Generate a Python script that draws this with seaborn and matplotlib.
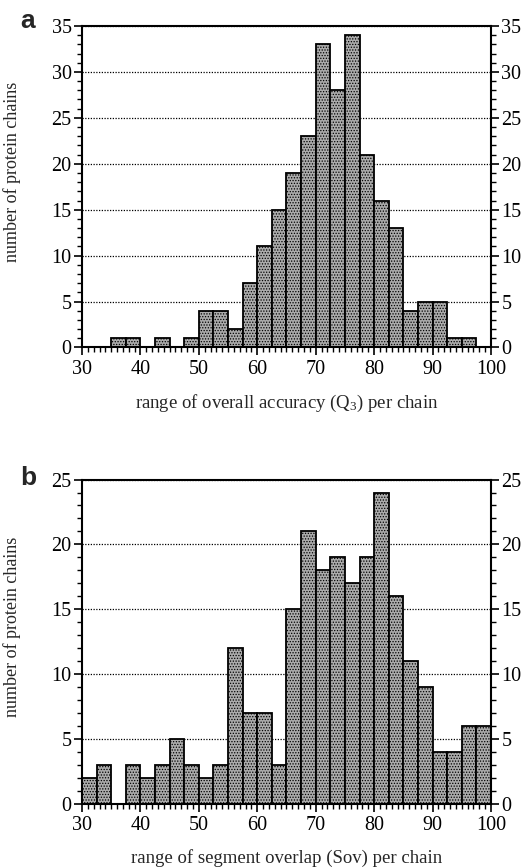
import numpy as np
import pandas as pd
import matplotlib
matplotlib.use('Agg')
import matplotlib.pyplot as plt
from matplotlib.ticker import MultipleLocator
import seaborn as sns

# histogram bins are 2.5 wide, from 30 to 100
bin_edges = np.arange(30, 100.1, 2.5)
bin_centers = bin_edges[:-1] + 1.25

# panel a: overall accuracy (Q3) per chain
q3_counts = [0, 0, 1, 1, 0, 1, 0, 1, 4, 4, 2, 7, 11, 15,
             19, 23, 33, 28, 34, 21, 16, 13, 4, 5, 5, 1, 1, 0]
# panel b: segment overlap (Sov) per chain
sov_counts = [2, 3, 0, 3, 2, 3, 5, 3, 2, 3, 12, 7, 7, 3,
              15, 21, 18, 19, 17, 19, 24, 16, 11, 9, 4, 4, 6, 6]

xlabels = ['range of overall accuracy (Q$_3$) per chain',
           'range of segment overlap (Sov) per chain']
ylabel = 'number of protein chains'
ymaxes = [35, 25]
letters = ['a', 'b']

bar_color = '#ababab'

sns.set_style('ticks')
plt.rcParams['font.family'] = ['Liberation Serif', 'DejaVu Serif']
plt.rcParams['mathtext.fontset'] = 'custom'
plt.rcParams['mathtext.rm'] = 'Liberation Serif'
plt.rcParams['mathtext.it'] = 'Liberation Serif:italic'
plt.rcParams['hatch.color'] = '#3c3c3c'
plt.rcParams['hatch.linewidth'] = 0.6


def draw_panel(ax, counts, ymax, xlabel):
    df = pd.DataFrame({'score': bin_centers, 'n': counts})
    sns.histplot(data=df, x='score', weights='n', bins=list(bin_edges), ax=ax,
                 color=bar_color, edgecolor='black', linewidth=1.3, alpha=1)
    for p in ax.patches:
        p.set_hatch('......')
    ax.set_xlim(30, 100)
    ax.set_ylim(0, ymax)
    ax.xaxis.set_major_locator(MultipleLocator(10))
    ax.xaxis.set_minor_locator(MultipleLocator(1))
    ax.yaxis.set_major_locator(MultipleLocator(5))
    ax.yaxis.set_minor_locator(MultipleLocator(1))
    ax.tick_params(which='both', direction='out', right=True, labelright=True,
                   top=False, colors='black', labelsize=14.5)
    ax.tick_params(which='major', length=6, width=1.2, pad=1.5)
    ax.tick_params(which='minor', length=3.5, width=1.0)
    ax.tick_params(axis='x', which='major', pad=3)
    for s in ax.spines.values():
        s.set_linewidth(1.5)
        s.set_color('black')
    ax.set_axisbelow(True)
    ax.grid(axis='y', which='major', linestyle=(0, (1, 1.2)),
            color='black', linewidth=0.9)
    ax.grid(axis='x', visible=False)
    ax.set_xlabel(xlabel, fontsize=13.5, labelpad=10)
    ax.set_ylabel(ylabel, fontsize=13)
    ax.yaxis.set_label_coords(-0.15, 0.545)


fig = plt.figure(figsize=(5.28, 8.67), dpi=100)
ax_a = fig.add_axes([0.1553, 0.5992, 0.7746, 0.3708])
ax_b = fig.add_axes([0.1553, 0.0727, 0.7746, 0.3742])

draw_panel(ax_a, q3_counts, ymaxes[0], xlabels[0])
draw_panel(ax_b, sov_counts, ymaxes[1], xlabels[1])

fig.text(28 / 528, 1 - 28 / 867, letters[0], fontsize=19, fontweight='bold',
         family='Liberation Sans', ha='center', va='baseline')
fig.text(28 / 528, 1 - 485 / 867, letters[1], fontsize=19, fontweight='bold',
         family='Liberation Sans', ha='center', va='baseline')

fig.savefig('out.png', dpi=100)
